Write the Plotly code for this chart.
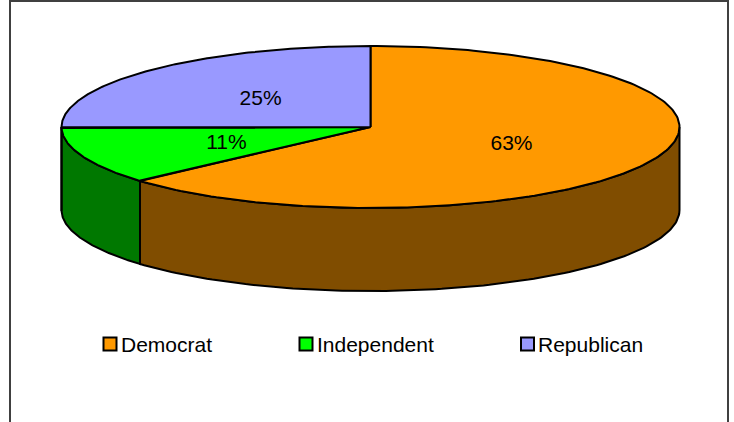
import numpy as np
import plotly.graph_objects as go

# ---- data ----
categories = ["Democrat", "Independent", "Republican"]
values = [63.4, 11.4, 25.2]   # shares in %, shown rounded as 63%, 11%, 25%

# ---- style ----
top_colors = ["#FF9900", "#00FF00", "#9999FF"]
side_colors = ["#804D00", "#007800", "#4D4D80"]
W, H = 734, 422
CX, CY, RX, RY = 370.5, 127.0, 309.0, 81.0   # pixel placement of the unit ellipse
DEPTH = 83.0 / RY                            # pie thickness in y units
FONT = "Liberation Sans, Arial, sans-serif"
FS = 21

fig = go.Figure()

total = float(sum(values))
labels = [f"{round(v / total * 100):d}%" for v in values]
starts, ends = [], []
a = 90.0
for v in values:
    starts.append(a)
    a -= v / total * 360.0
    ends.append(a)

# side faces (front half: angles in [-180, 0])
for i in range(len(values)):
    hi = min(starts[i], 0.0)
    lo = max(ends[i], -180.0)
    if hi > lo:
        t = np.radians(np.linspace(hi, lo, 120))
        xs = np.cos(t)
        ys = np.sin(t)
        px = np.concatenate([xs, xs[::-1], xs[:1]])
        py = np.concatenate([ys, ys[::-1] - DEPTH, ys[:1]])
        fig.add_trace(go.Scatter(x=px, y=py, mode="lines", fill="toself",
                                 fillcolor=side_colors[i],
                                 line=dict(color="black", width=2),
                                 hoverinfo="skip", showlegend=False))

# top faces
for i in range(len(values)):
    t = np.radians(np.linspace(starts[i], ends[i], 200))
    px = np.concatenate([[0], np.cos(t), [0]])
    py = np.concatenate([[0], np.sin(t), [0]])
    fig.add_trace(go.Scatter(x=px, y=py, mode="lines", fill="toself",
                             fillcolor=top_colors[i],
                             line=dict(color="black", width=2),
                             hoverinfo="skip", showlegend=False))

# data labels
mids = np.radians([(s + e) / 2 for s, e in zip(starts, ends)])
fig.add_trace(go.Scatter(x=0.5 * np.cos(mids), y=0.5 * np.sin(mids) - 0.02,
                         mode="text", text=labels,
                         textfont=dict(family=FONT, size=FS, color="black"),
                         hoverinfo="skip", showlegend=False))

# legend (manual, Excel-like)
leg_x = [103.5, 299.5, 521.0]
leg_y = 344.0
sq = 13.0
shapes = []
annotations = []
for i, name in enumerate(categories):
    x0 = leg_x[i]
    shapes.append(dict(type="rect", xref="paper", yref="paper",
                       x0=x0 / W, x1=(x0 + sq) / W,
                       y0=1 - (leg_y + sq / 2) / H, y1=1 - (leg_y - sq / 2) / H,
                       fillcolor=top_colors[i], line=dict(color="black", width=2)))
    annotations.append(dict(xref="paper", yref="paper", x=(x0 + sq + 2) / W,
                            y=1 - leg_y / H, xanchor="left", yanchor="middle",
                            text=name, showarrow=False,
                            font=dict(family=FONT, size=FS, color="black")))

# chart frame
shapes.append(dict(type="rect", xref="paper", yref="paper",
                   x0=10 / W, x1=728 / W, y0=1 - 440 / H, y1=1 - 1 / H,
                   line=dict(color="#404040", width=2), fillcolor="rgba(0,0,0,0)"))

fig.update_layout(
    width=W, height=H,
    margin=dict(l=0, r=0, t=0, b=0),
    paper_bgcolor="white", plot_bgcolor="white",
    xaxis=dict(range=[-CX / RX, (W - CX) / RX], visible=False, fixedrange=True),
    yaxis=dict(range=[(CY - H) / RY, CY / RY], visible=False, fixedrange=True),
    shapes=shapes, annotations=annotations,
    showlegend=False,
)

fig.write_html("out.html", config={"displayModeBar": False},
               post_script="document.body.style.margin='0';document.body.style.overflow='hidden';")
